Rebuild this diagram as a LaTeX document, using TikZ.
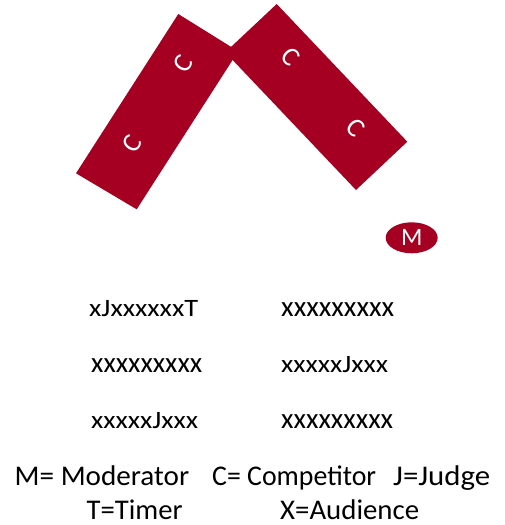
\documentclass[tikz,border=0pt]{standalone}
\usepackage{fontspec}
\setmainfont{Carlito}
\usetikzlibrary{shapes.geometric}
\definecolor{stagered}{RGB}{165,0,33}
\newcommand{\fitw}[3]{\resizebox{#1pt}{\height}{\fontsize{#2}{#2}\selectfont #3}}
\begin{document}
\begin{tikzpicture}[x=1pt,y=-1pt,
  seat/.style={text=white,inner sep=0pt,font=\fontsize{27}{27}\selectfont},
  lbl/.style={anchor=base west,inner sep=0pt},
  table/.style={fill=stagered}]
\useasboundingbox (0,0) rectangle (504,525);
% left table
\coordinate (A) at (178.3,14);
\coordinate (B) at (238.2,51.3);
\coordinate (C) at (136.7,209.3);
\coordinate (D) at (76,173.3);
% right table
\coordinate (P) at (276.7,4);
\coordinate (Q) at (407.3,141.7);
\coordinate (R) at (356,190);
\coordinate (S) at (225.3,52.3);
\fill[table] (A) -- (B) -- (C) -- (D) -- cycle;
\fill[table] (P) -- (Q) -- (R) -- (S) -- cycle;
\node[seat,rotate=57.3] (c1) at (182.7,64) {C};
\node[seat,rotate=57.3] (c2) at (131.7,144) {C};
\node[seat,rotate=-46.5] (c3) at (291,57) {C};
\node[seat,rotate=-46.5] (c4) at (356,127.3) {C};
% moderator
\node[ellipse,fill=stagered,minimum width=52pt,minimum height=31pt,inner sep=0pt,
  text=white,font=\fontsize{25}{25}\selectfont] (m) at (411.7,237.8) {M};
% audience rows
\node[lbl] (r1l) at (89,316.7) {\fitw{109}{25}{xJxxxxxxT}};
\node[lbl] (r1r) at (281,316.7) {\fitw{113}{29}{xxxxxxxxx}};
\node[lbl] (r2l) at (91,372.7) {\fitw{111}{29}{xxxxxxxxx}};
\node[lbl] (r2r) at (281,372.7) {\fitw{107}{25}{xxxxxJxxx}};
\node[lbl] (r3l) at (91,428.3) {\fitw{107}{25}{xxxxxJxxx}};
\node[lbl] (r3r) at (281,428.3) {\fitw{112}{29}{xxxxxxxxx}};
% legend
\node[lbl] (lm) at (14.5,485) {\fitw{174.5}{28.5}{M= Moderator}};
\node[lbl] (lc) at (212,485) {\fitw{164}{28.5}{C= Competitor}};
\node[lbl] (lj) at (393,485) {\fitw{97}{28.5}{J=Judge}};
\node[lbl] (lt) at (86.5,519.3) {\fitw{96}{28.5}{T=Timer}};
\node[lbl] (lx) at (280,519.3) {\fitw{139}{28.5}{X=Audience}};
\end{tikzpicture}
\end{document}
